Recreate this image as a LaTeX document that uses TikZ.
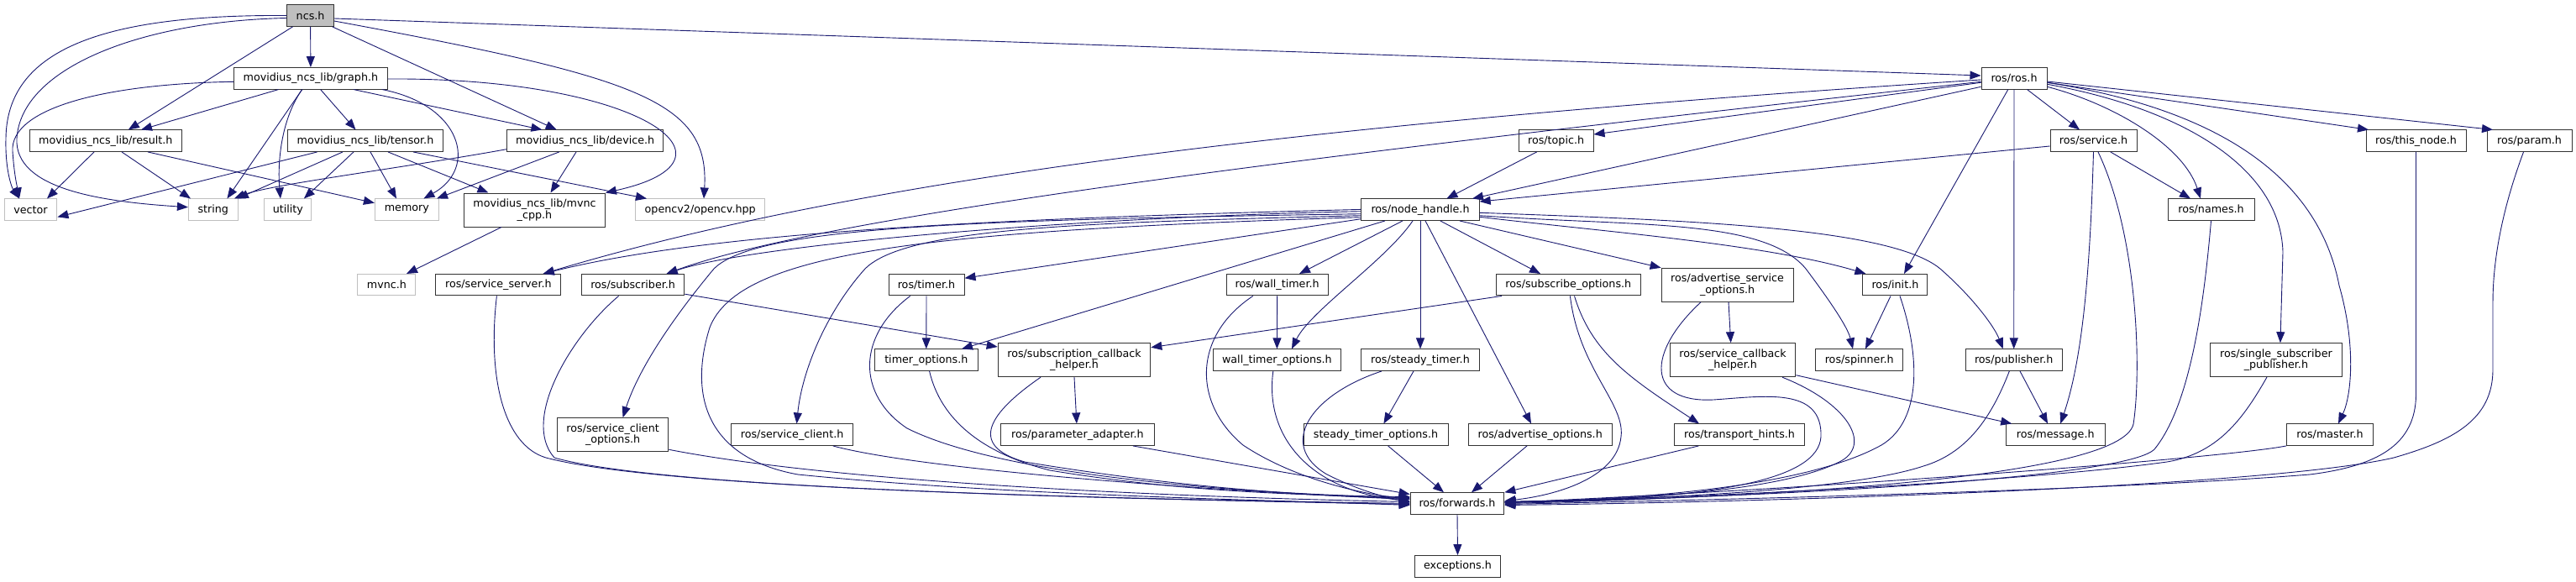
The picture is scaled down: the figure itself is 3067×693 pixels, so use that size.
\documentclass[tikz,border=0pt]{standalone}
\usepackage{fontspec}
\setmainfont{DejaVu Sans}
\usetikzlibrary{arrows.meta}
\definecolor{edgeblue}{HTML}{191970}
\definecolor{grey75}{HTML}{BFBFBF}
\definecolor{bordergrey}{HTML}{333333}
\newcommand{\nfont}{\fontsize{12.7}{13.7}\selectfont}
\tikzset{
  nd/.style={draw=bordergrey, line width=1pt, fill=white, minimum height=25.5pt, inner sep=0pt, font=\nfont, align=center, text=black},
  nd2/.style={nd, minimum height=40pt},
  ext/.style={nd, draw=grey75},
  dep/.style={draw=edgeblue, line width=0.9pt, -{Triangle[length=13pt,width=10pt]}}
}
\begin{document}
\begin{tikzpicture}[x=1pt,y=-1pt]
\useasboundingbox (0,0) rectangle (3067,693);
\fill[white] (0,0) rectangle (3067,693);

% ---------- nodes ----------
\node[nd, fill=grey75, minimum width=55.6, minimum height=25.6] (ncs) at (369.6,18.5) {ncs.h};
\node[nd, minimum width=182.6] (graph) at (369.9,93.3) {movidius\_ncs\_lib/graph.h};
\node[nd, minimum width=78] (ros) at (2398,93.3) {ros/ros.h};
\node[nd, minimum width=181] (result) at (125.8,167.7) {movidius\_ncs\_lib/result.h};
\node[nd, minimum width=185.3] (tensor) at (435,167.7) {movidius\_ncs\_lib/tensor.h};
\node[nd, minimum width=186.2] (device) at (696.7,167.7) {movidius\_ncs\_lib/device.h};
\node[nd, minimum width=88.8] (topic) at (1852.6,167.7) {ros/topic.h};
\node[nd, minimum width=103] (service) at (2492.5,167.7) {ros/service.h};
\node[nd, minimum width=119] (thisnode) at (2876.5,167.7) {ros/this\_node.h};
\node[nd, minimum width=101] (param) at (3011.5,167.7) {ros/param.h};
\node[ext, minimum width=62.8] (vector) at (36.5,249.7) {vector};
\node[ext, minimum width=58.7] (string) at (253.8,249.7) {string};
\node[ext, minimum width=56.1] (utility) at (342.9,249.7) {utility};
\node[ext, minimum width=76] (memory) at (484.4,249.7) {memory};
\node[nd2, minimum width=167.8] (mvnccpp) at (636.5,250) {movidius\_ncs\_lib/mvnc\\\_cpp.h};
\node[ext, minimum width=154] (opencv) at (833.7,249.7) {opencv2/opencv.hpp};
\node[nd, minimum width=140.3] (nodehandle) at (1691,249.7) {ros/node\_handle.h};
\node[nd, minimum width=103] (names) at (2632.5,249.7) {ros/names.h};
\node[ext, minimum width=69] (mvnc) at (460.4,339.2) {mvnc.h};
\node[nd, minimum width=149] (srvserver) at (593.4,339.2) {ros/service\_server.h};
\node[nd, minimum width=122.5] (subscriber) at (753.6,339.2) {ros/subscriber.h};
\node[nd, minimum width=90] (timer) at (1103,339.2) {ros/timer.h};
\node[nd, minimum width=121] (walltimer) at (1520.6,339.2) {ros/wall\_timer.h};
\node[nd, minimum width=172.6] (subopts) at (1867.3,339.2) {ros/subscribe\_options.h};
\node[nd2, minimum width=157] (advsrvopts) at (2056.6,339.3) {ros/advertise\_service\\\_options.h};
\node[nd, minimum width=77] (init) at (2256.4,339.2) {ros/init.h};
\node[nd, minimum width=123] (timeropts) at (1102.8,428.7) {timer\_options.h};
\node[nd2, minimum width=181.6] (subcb) at (1279,428.7) {ros/subscription\_callback\\\_helper.h};
\node[nd, minimum width=152] (walltimeropts) at (1520.4,428.7) {wall\_timer\_options.h};
\node[nd, minimum width=141.3] (steadytimer) at (1691,428.7) {ros/steady\_timer.h};
\node[nd2, minimum width=149.5] (srvcb) at (2063,428.7) {ros/service\_callback\\\_helper.h};
\node[nd, minimum width=104] (spinner) at (2213.7,428.7) {ros/spinner.h};
\node[nd, minimum width=115] (publisher) at (2397.7,428.7) {ros/publisher.h};
\node[nd2, minimum width=156.6] (singlesub) at (2709.9,428.7) {ros/single\_subscriber\\\_publisher.h};
\node[nd2, minimum width=132.6] (srvclientopts) at (729.6,517.7) {ros/service\_client\\\_options.h};
\node[nd, minimum width=144.4] (srvclient) at (943.1,517.7) {ros/service\_client.h};
\node[nd, minimum width=183] (paramadapter) at (1282.9,517.7) {ros/parameter\_adapter.h};
\node[nd, minimum width=172] (steadyopts) at (1638,517.7) {steady\_timer\_options.h};
\node[nd, minimum width=171.4] (advopts) at (1833.7,517.7) {ros/advertise\_options.h};
\node[nd, minimum width=155] (transport) at (2071,517.7) {ros/transport\_hints.h};
\node[nd, minimum width=117.8] (message) at (2447.2,517.7) {ros/message.h};
\node[nd, minimum width=103] (master) at (2774,517.7) {ros/master.h};
\node[nd, minimum width=111.7] (forwards) at (1735,599.5) {ros/forwards.h};
\node[nd, minimum width=102.5] (exceptions) at (1735.5,674.3) {exceptions.h};

% ---------- edges ----------
% ncs.h
\draw[dep] (ncs.south) -- (graph.north);
\draw[dep] ([xshift=-21]ncs.south) -- ([xshift=27]result.north);
\draw[dep] ([xshift=26]ncs.south) -- ([xshift=-34]device.north);
\draw[dep] (ncs.west) .. controls (120,17) and (8,60) .. (7,165) .. controls (6,205) and (15,225) .. ([xshift=-13.5]vector.north);
\draw[dep] ([yshift=-3]ncs.west) .. controls (170,25) and (25,80) .. (20,165) .. controls (17,225) and (120,240) .. ([yshift=3]string.west);
\draw[dep] ([yshift=-6.5]ncs.east) .. controls (760,92) and (845,120) .. ([xshift=4.3]opencv.north);
\draw[dep] ([yshift=-3.5]ncs.east) -- ([yshift=3.3]ros.west);
% graph.h
\draw[dep] ([yshift=-4]graph.west) .. controls (120,100) and (12,130) .. (15,180) .. controls (17,210) and (21,225) .. ([xshift=-13.5]vector.north);
\draw[dep] ([xshift=-38.3]graph.south) -- ([xshift=42.2]result.north);
\draw[dep] ([xshift=-10.2]graph.south) -- ([xshift=16.6]string.north);
\draw[dep] ([xshift=-10.2]graph.south) .. controls (336,140) and (330,190) .. ([xshift=-9]utility.north);
\draw[dep] ([xshift=11.7]graph.south) -- ([xshift=-11.5]tensor.north);
\draw[dep] ([xshift=85]graph.south) .. controls (550,125) and (570,200) .. ([xshift=20]memory.north);
\draw[dep] ([xshift=51]graph.south) -- ([xshift=-51.3]device.north);
\draw[dep] ([yshift=-0.7]graph.east) .. controls (760,92) and (900,190) .. (mvnccpp.north east);
% result.h
\draw[dep] ([xshift=-13.8]result.south) -- ([xshift=19.5]vector.north);
\draw[dep] ([xshift=19.2]result.south) -- ([xshift=-26.8]string.north);
\draw[dep] ([xshift=50.2]result.south) -- ([yshift=8]memory.west);
% tensor.h
\draw[dep] ([xshift=-57.4]tensor.south) -- ([yshift=-8.7]vector.east);
\draw[dep] ([xshift=-27]tensor.south) -- ([xshift=29]string.north);
\draw[dep] ([xshift=-14]tensor.south) -- ([xshift=19]utility.north);
\draw[dep] ([xshift=6]tensor.south) -- ([xshift=-12.4]memory.north);
\draw[dep] ([xshift=27]tensor.south) -- ([xshift=-55]mvnccpp.north);
\draw[dep] ([xshift=57]tensor.south) -- ([xshift=-63.7]opencv.north);
% device.h
\draw[dep] ([yshift=-10]device.west) .. controls (480,200) and (320,220) .. ([xshift=25]string.north);
\draw[dep] ([xshift=-31]device.south) -- ([xshift=35.6]memory.north);
\draw[dep] ([xshift=-10.7]device.south) -- ([xshift=19]mvnccpp.north);
% mvnc_cpp.h
\draw[dep] ([xshift=-39.5]mvnccpp.south) -- ([xshift=23.6]mvnc.north);
% ros.h
\draw[dep] ([yshift=-5]ros.west) -- ([yshift=7.7]topic.east);
\draw[dep] ([yshift=-10]ros.west) -- ([xshift=62]nodehandle.north);
\draw[dep] ([yshift=-1.7]ros.west) .. controls (1500,150) and (1000,220) .. ([xshift=53.3]srvserver.north);
\draw[dep] ([yshift=-4]ros.west) .. controls (1700,170) and (1000,250) .. ([xshift=40]subscriber.north);
\draw[dep] ([xshift=-7.2]ros.south) -- ([xshift=10.6]init.north);
\draw[dep] (ros.south) -- (publisher.north);
\draw[dep] ([xshift=15.5]ros.south) -- ([xshift=-16.5]service.north);
\draw[dep] ([yshift=-10]ros.east) .. controls (2520,125) and (2600,175) .. ([xshift=-12.5]names.north);
\draw[dep] ([yshift=-7]ros.east) .. controls (2600,130) and (2715,200) .. (2718,300) -- ([xshift=5]singlesub.north);
\draw[dep] ([yshift=-5]ros.east) .. controls (2640,130) and (2760,210) .. (2785,340) .. controls (2805,410) and (2800,470) .. ([xshift=10]master.north);
\draw[dep] ([yshift=-5]ros.east) -- ([xshift=-56.5]thisnode.north);
\draw[dep] ([yshift=-3.7]ros.east) -- ([xshift=-43.5]param.north);
% topic.h, service.h
\draw[dep] ([xshift=-23]topic.south) -- ([xshift=31.4]nodehandle.north);
\draw[dep] ([yshift=-6.3]service.west) -- ([yshift=9.7]nodehandle.east);
\draw[dep] ([xshift=20.3]service.south) -- ([xshift=-24.5]names.north);
\draw[dep] (service.south) .. controls (2489,300) and (2482,420) .. ([xshift=6]message.north);
\draw[dep] ([xshift=5.5]service.south) .. controls (2545,280) and (2550,440) .. (2540,505) .. controls (2525,570) and (2100,592) .. (forwards.east);
% names, this_node, param, single_sub, master
\draw[dep] (names.south) .. controls (2625,350) and (2610,480) .. (2565,535) .. controls (2530,570) and (2100,592) .. ([yshift=1]forwards.east);
\draw[dep] (thisnode.south) -- (2876.5,470) .. controls (2876,530) and (2830,555) .. (2750,565) .. controls (2500,585) and (2000,596) .. ([yshift=-1]forwards.east);
\draw[dep] ([xshift=-7]param.south) .. controls (2975,260) and (2968,320) .. (2968,360) -- (2968,440) .. controls (2968,500) and (2920,525) .. (2850,545) .. controls (2700,580) and (2100,598) .. ([yshift=-2]forwards.east);
\draw[dep] ([xshift=-11]singlesub.south) .. controls (2670,500) and (2640,540) .. (2580,550) .. controls (2400,575) and (2000,593) .. ([yshift=1]forwards.east);
\draw[dep] (master.south west) .. controls (2650,545) and (2200,580) .. ([yshift=1]forwards.east);
% publisher, init, service_callback_helper, advertise_service_options
\draw[dep] ([xshift=7.3]publisher.south) -- ([xshift=-9.2]message.north);
\draw[dep] ([xshift=-5.4]publisher.south) .. controls (2370,500) and (2340,540) .. (2290,555) .. controls (2200,585) and (1950,595) .. ([yshift=2]forwards.east);
\draw[dep] ([xshift=-5.4]init.south) -- ([xshift=7.3]spinner.north);
\draw[dep] ([xshift=5.6]init.south) .. controls (2285,420) and (2290,500) .. (2240,530) .. controls (2150,580) and (1950,595) .. ([yshift=2]forwards.east);
\draw[dep] ([yshift=-18]srvcb.east) -- ([xshift=-52]message.north);
\draw[dep] ([xshift=59]srvcb.south) .. controls (2200,480) and (2230,530) .. (2190,550) .. controls (2120,585) and (1950,595) .. ([yshift=2]forwards.east);
\draw[dep] ([xshift=1.4]advsrvopts.south) -- ([xshift=-2.3]srvcb.north);
\draw[dep] ([xshift=-31.6]advsrvopts.south) .. controls (1960,420) and (1960,480) .. (2040,476) .. controls (2100,472) and (2170,460) .. (2168,520) .. controls (2165,570) and (2050,595) .. ([yshift=2]forwards.east);
% subscribe_options, transport_hints
\draw[dep] ([xshift=-79.3]subopts.south) -- ([yshift=15]subcb.east);
\draw[dep] ([xshift=2.1]subopts.south) .. controls (1880,440) and (1935,480) .. (1930,520) .. controls (1925,570) and (1850,590) .. ([yshift=3]forwards.east);
\draw[dep] ([xshift=7.2]subopts.south) .. controls (1895,420) and (1940,450) .. ([xshift=-48]transport.north);
\draw[dep] ([xshift=-48.6]transport.south) -- (forwards.north east);
% node_handle.h
\draw[dep] ([yshift=0.3]nodehandle.west) .. controls (1200,260) and (850,275) .. ([xshift=53.3]srvserver.north);
\draw[dep] ([yshift=-2]nodehandle.west) .. controls (1300,258) and (900,290) .. ([xshift=40]subscriber.north);
\draw[dep] ([yshift=-11]nodehandle.west) -- ([yshift=8]timer.east);
\draw[dep] ([yshift=-5]nodehandle.west) .. controls (1150,262) and (900,270) .. (850,320) .. controls (800,380) and (760,440) .. ([xshift=12]srvclientopts.north);
\draw[dep] ([yshift=-7]nodehandle.west) .. controls (1300,265) and (1080,270) .. (1030,320) .. controls (985,370) and (955,440) .. ([xshift=5.4]srvclient.north);
\draw[dep] ([yshift=-9]nodehandle.west) .. controls (1100,275) and (880,300) .. (845,390) .. controls (820,470) and (840,545) .. (950,565) .. controls (1200,590) and (1500,595) .. ([yshift=-2]forwards.west);
\draw[dep] ([xshift=-42]nodehandle.south) -- ([xshift=42.2]timeropts.north);
\draw[dep] ([xshift=-21]nodehandle.south) -- ([xshift=26.4]walltimer.north);
\draw[dep] ([xshift=-9]nodehandle.south) .. controls (1650,310) and (1560,370) .. ([xshift=17.6]walltimeropts.north);
\draw[dep] (nodehandle.south) -- (steadytimer.north);
\draw[dep] ([xshift=6]nodehandle.south) -- ([xshift=-10.7]advopts.north);
\draw[dep] ([xshift=23.8]nodehandle.south) -- ([xshift=-33.3]subopts.north);
\draw[dep] ([xshift=46.8]nodehandle.south) -- (advsrvopts.north west);
\draw[dep] ([yshift=-8.6]nodehandle.east) .. controls (1900,275) and (2100,290) .. ([xshift=-35]init.north);
\draw[dep] ([yshift=-7]nodehandle.east) .. controls (1950,270) and (2100,260) .. (2150,320) .. controls (2180,360) and (2200,390) .. ([xshift=-7.7]spinner.north);
\draw[dep] ([yshift=-3.6]nodehandle.east) .. controls (2000,262) and (2250,270) .. (2310,320) .. controls (2350,355) and (2375,390) .. ([xshift=-13]publisher.north);
% service_server, subscriber
\draw[dep] ([xshift=-2]srvserver.south) .. controls (580,450) and (600,530) .. (650,545) .. controls (800,585) and (1400,595) .. (forwards.west);
\draw[dep] ([xshift=-17]subscriber.south) .. controls (680,400) and (620,500) .. (660,545) .. controls (800,585) and (1400,595) .. ([yshift=-1]forwards.west);
\draw[dep] ([yshift=-11]subscriber.east) -- ([yshift=15.7]subcb.west);
% timer, timer_options, service_client(_options)
\draw[dep] (timer.south) -- (timeropts.north);
\draw[dep] ([xshift=-19.3]timer.south) .. controls (1020,400) and (1020,470) .. (1080,510) .. controls (1200,570) and (1500,588) .. ([yshift=7]forwards.west);
\draw[dep] ([xshift=3.8]timeropts.south) .. controls (1120,500) and (1170,540) .. (1250,560) .. controls (1400,585) and (1550,590) .. ([yshift=8]forwards.west);
\draw[dep] ([yshift=-17.6]srvclientopts.east) .. controls (1000,575) and (1400,592) .. ([yshift=2]forwards.west);
\draw[dep] ([xshift=48.7]srvclient.south) .. controls (1100,560) and (1450,585) .. ([yshift=5]forwards.west);
% subscription_callback_helper, parameter_adapter
\draw[dep] (subcb.south) -- ([xshift=-1]paramadapter.north);
\draw[dep] ([xshift=-40]subcb.south) .. controls (1180,490) and (1150,530) .. (1220,550) .. controls (1400,580) and (1550,590) .. ([yshift=6]forwards.west);
\draw[dep] ([xshift=66]paramadapter.south) -- ([yshift=11]forwards.west);
% wall_timer, wall_timer_options, steady_timer
\draw[dep] (walltimer.south) -- (walltimeropts.north);
\draw[dep] ([xshift=-28.8]walltimer.south) .. controls (1420,400) and (1420,480) .. (1480,530) .. controls (1540,570) and (1620,588) .. ([yshift=5]forwards.west);
\draw[dep] ([xshift=-4.6]walltimeropts.south) .. controls (1505,520) and (1560,585) .. ([yshift=3]forwards.west);
\draw[dep] ([xshift=-8]steadytimer.south) -- ([xshift=9.4]steadyopts.north);
\draw[dep] ([xshift=-46]steadytimer.south) .. controls (1560,470) and (1520,530) .. (1580,565) .. controls (1620,585) and (1650,592) .. ([yshift=1]forwards.west);
\draw[dep] ([xshift=14.6]steadyopts.south) -- ([xshift=-16]forwards.north);
\draw[dep] ([xshift=-15.7]advopts.south) -- ([xshift=17]forwards.north);
% forwards
\draw[dep] (forwards.south) -- (exceptions.north);
\end{tikzpicture}
\end{document}
